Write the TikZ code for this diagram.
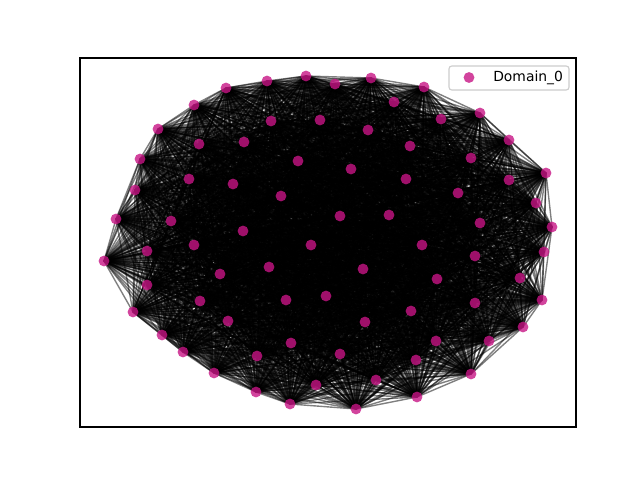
\documentclass[tikz,border=0pt]{standalone}
\usepackage{fontspec}
\setmainfont{DejaVu Sans}
\usetikzlibrary{backgrounds}
\definecolor{mvr}{RGB}{199,21,133}
\definecolor{legframe}{gray}{0.8}
\tikzset{
  dot/.style={circle,fill=mvr,draw=none,fill opacity=0.8,minimum size=7.8pt,inner sep=0pt},
  edge/.style={draw=black,draw opacity=0.5,line width=1pt},
  axframe/.style={draw=black,line width=0.8pt},
  legbox/.style={draw=legframe,fill=white,fill opacity=0.8,draw opacity=1,rounded corners=2pt,line width=0.8pt},
}
\begin{document}
\begin{tikzpicture}[x=0.72pt,y=-0.72pt]
\useasboundingbox (0,0) rectangle (640,480);
\foreach \px/\py [count=\k] in {
306/76,335/84,371/78,394/102,424/87,441/119,480/113,509/140,546/173,536/203,
552/227,544/252,520/278,542/300,523/327,489/341,471/374,436/341,417/397,416/360,
376/380,356/409,340/354,316/385,290/404,256/392,257/356,214/373,183/352,162/335,
133/312,147/285,104/261,147/251,116/219,135/190,140/159,158/129,194/105,226/88,
267/81,271/121,320/120,368/130,410/146,471/158,509/180,458/193,480/223,475/256,
437/279,475/303,411/311,365/322,326/296,291/343,286/300,228/321,200/301,220/274,
269/267,311/245,363/269,422/245,389/215,340/216,406/179,351/169,298/161,281/196,
244/142,199/144,189/179,233/184,171/221,194/245,243/231}
  \node[dot] (n\k) at (\px,\py) {};
\begin{pgfonlayer}{background}
\foreach \i in {1,...,76}{
  \pgfmathtruncatemacro\s{\i+1}
  \foreach \j in {\s,...,77}{
    \draw[edge] (n\i.center) -- (n\j.center);
  }
}
\end{pgfonlayer}
\draw[axframe] (80,58) rectangle (576,427);
\node[legbox,minimum width=120*0.72pt,minimum height=24*0.72pt,inner sep=0pt] (leg) at (509,78) {};
\node[dot] (legdot) at (469,77.5) {};
\node[anchor=west,font=\fontsize{10pt}{12pt}\selectfont,inner sep=0pt] (legtext) at (493,77.5) {Domain\_0};
\end{tikzpicture}
\end{document}
